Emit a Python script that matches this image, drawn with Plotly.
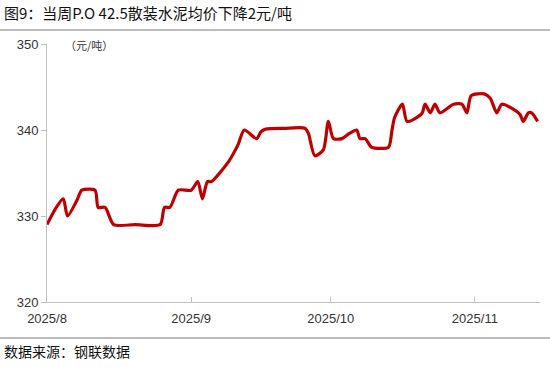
import plotly.graph_objects as go

dates = [
    "2025-08-01", "2025-08-03", "2025-08-04 12:00", "2025-08-05 10:00", "2025-08-07 10:00",
    "2025-08-08 12:00", "2025-08-11 08:00", "2025-08-12", "2025-08-13 12:00", "2025-08-15 08:00",
    "2025-08-20", "2025-08-25 08:00", "2025-08-26 06:00", "2025-08-27 10:00", "2025-08-29 06:00",
    "2025-09-01", "2025-09-02 10:00", "2025-09-03 10:00", "2025-09-04 12:00", "2025-09-05 08:00",
    "2025-09-09", "2025-09-11 02:00", "2025-09-12 10:00", "2025-09-15 02:00", "2025-09-16",
    "2025-09-17", "2025-09-21", "2025-09-25 12:00", "2025-09-26 05:00", "2025-09-27 14:00",
    "2025-09-29 10:00", "2025-09-30 12:00", "2025-10-01 14:00", "2025-10-03 10:00", "2025-10-05",
    "2025-10-06 14:00", "2025-10-07 07:00", "2025-10-08 10:00", "2025-10-09 19:00", "2025-10-13 10:00",
    "2025-10-14 03:00", "2025-10-14 17:00", "2025-10-16 10:00", "2025-10-17 10:00", "2025-10-20 14:00",
    "2025-10-21 07:00", "2025-10-22 10:00", "2025-10-23 10:00", "2025-10-24 12:00", "2025-10-27 10:00",
    "2025-10-29 05:00", "2025-10-30 07:00", "2025-10-31 05:00", "2025-11-03", "2025-11-04 07:00",
    "2025-11-05 17:00", "2025-11-06 19:00", "2025-11-09 14:00", "2025-11-10 17:00", "2025-11-11 10:00",
    "2025-11-12 12:00", "2025-11-13 05:00", "2025-11-14 12:00",
]
prices = [
    329, 331, 332, 330, 331.8,
    333, 333, 331, 331, 329,
    329, 329, 331, 331, 333,
    333, 334, 332, 334, 334,
    336.3, 338.3, 340, 339, 339.8,
    340.1, 340.2, 340.2, 339.6, 337,
    337.7, 341, 339, 339, 339.6,
    340, 339, 339, 338, 338,
    339.8, 341.4, 343, 341, 341.9,
    343, 342, 343, 342, 343,
    343, 342, 344, 344.2, 343.7,
    342, 343, 342.3, 341.8, 341,
    342, 342, 341,
]

tick_vals = ["2025-08-01", "2025-09-01", "2025-10-01", "2025-11-01"]
tick_text = ["2025/8", "2025/9", "2025/10", "2025/11"]

title_text = "图9：当周P.O 42.5散装水泥均价下降2元/吨"
unit_text = "（元/吨）"
source_text = "数据来源：钢联数据"

FONT = "Noto Sans CJK SC"
NUM_FONT = "Liberation Sans"

PW, PH = 493, 258  # plot area size in px

fig = go.Figure()
fig.add_trace(go.Scatter(
    x=dates, y=prices, mode="lines",
    line=dict(color="#C00000", width=3.2, shape="spline", smoothing=0.7),
    hoverinfo="skip", showlegend=False,
))

fig.update_layout(
    width=550, height=367,
    margin=dict(l=47, r=10, t=44, b=65),
    paper_bgcolor="white", plot_bgcolor="white",
    font=dict(family=FONT, size=12, color="#333333"),
    xaxis=dict(
        type="date", automargin=False,
        range=["2025-08-01", "2025-11-15"],
        tickvals=tick_vals, ticktext=tick_text,
        showgrid=False, zeroline=False,
        showline=True, linecolor="#BFBFBF", linewidth=1,
        ticks="inside", ticklen=5, tickcolor="#BFBFBF",
        ticklabelstandoff=4,
        tickfont=dict(size=13, color="#333333", family=NUM_FONT),
    ),
    yaxis=dict(
        automargin=False,
        range=[320, 350], dtick=10, tick0=320,
        showgrid=False, zeroline=False,
        showline=True, linecolor="#BFBFBF", linewidth=1,
        ticks="outside", ticklen=5, tickcolor="#BFBFBF",
        tickfont=dict(size=13, color="#333333", family=NUM_FONT),
    ),
    shapes=[
        dict(type="line", xref="paper", yref="paper", x0=-47/PW, x1=503/PW,
             y0=1 + 14/PH, y1=1 + 14/PH, line=dict(color="#A6A6A6", width=1.5)),
        dict(type="line", xref="paper", yref="paper", x0=-47/PW, x1=503/PW,
             y0=-36/PH, y1=-36/PH, line=dict(color="#A6A6A6", width=1.5)),
    ],
    annotations=[
        dict(text=title_text, xref="paper", yref="paper", x=-45/PW, y=1 + 32/PH,
             xanchor="left", yanchor="middle", showarrow=False,
             font=dict(size=15, color="#111111", family=FONT)),
        dict(text=unit_text, xref="paper", yref="paper", x=16/PW, y=1 - 1/PH,
             xanchor="left", yanchor="middle", showarrow=False,
             font=dict(size=11, color="#333333", family=FONT)),
        dict(text=source_text, xref="paper", yref="paper", x=-45/PW, y=-49/PH,
             xanchor="left", yanchor="middle", showarrow=False,
             font=dict(size=14, color="#111111", family=FONT)),
    ],
)

fig.write_html(
    "out.html",
    config={"displayModeBar": False},
    post_script="document.body.style.margin='0';document.body.style.overflow='hidden';",
)
